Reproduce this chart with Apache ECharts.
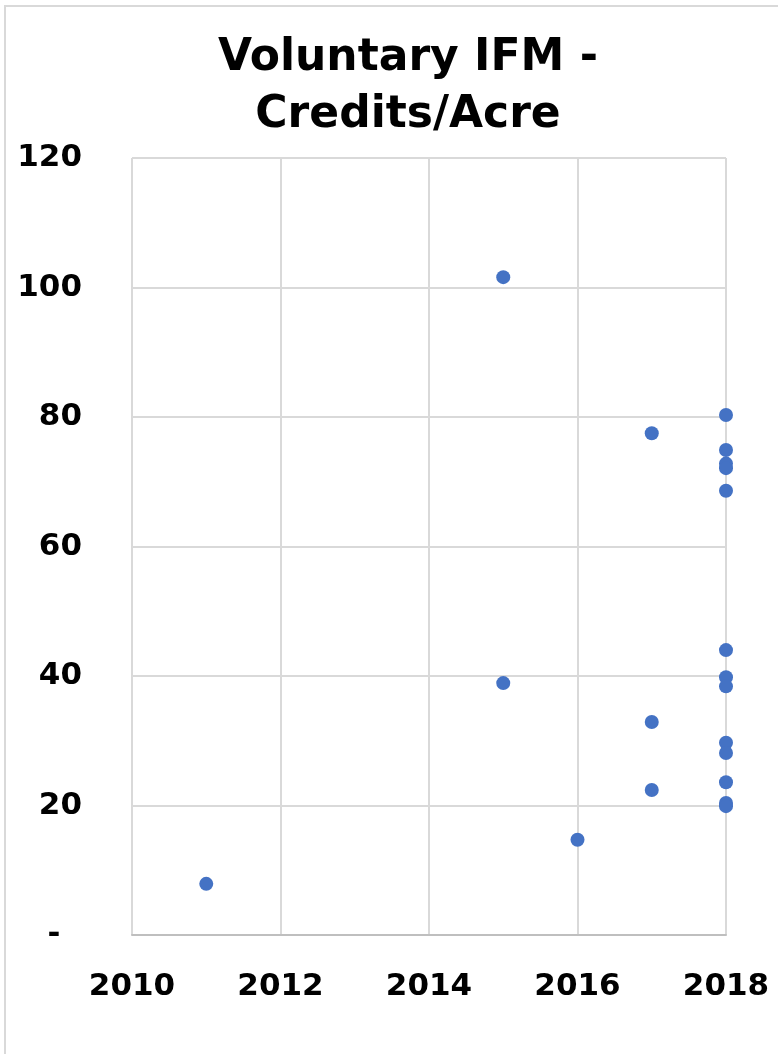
<!DOCTYPE html>
<html>
<head>
<meta charset="utf-8">
<script src="https://cdn.jsdelivr.net/npm/echarts@6/dist/echarts.min.js"></script>
<style>
  html, body { margin: 0; padding: 0; background: #ffffff; }
  #chart { width: 778px; height: 1054px; }
</style>
</head>
<body>
<div id="chart"></div>
<script>
// Project vintage year and credits issued per acre
const years = [2011, 2015, 2015, 2016, 2017, 2017, 2017,
               2018, 2018, 2018, 2018, 2018, 2018, 2018, 2018, 2018, 2018, 2018, 2018, 2018];
const creditsPerAcre = [7.9, 101.6, 38.9, 14.7, 77.5, 32.9, 22.4,
                        80.3, 74.9, 72.8, 72.1, 68.6, 44.0, 39.8, 38.4, 29.7, 28.1, 23.6, 20.4, 19.9];
const titleText = 'Voluntary IFM -\nCredits/Acre';

const points = years.map((y, i) => [y, creditsPerAcre[i]]);
const FONT = '"DejaVu Sans", sans-serif';

const chart = echarts.init(document.getElementById('chart'), null, { renderer: 'canvas' });
chart.setOption({
  animation: false,
  backgroundColor: '#ffffff',
  grid: { left: 132, right: 52, top: 158, bottom: 119, containLabel: false },
  graphic: [
    {
      type: 'rect',
      shape: { x: 5, y: 6, width: 820, height: 1100 },
      style: { fill: 'none', stroke: '#d9d9d9', lineWidth: 2 },
      silent: true
    },
    {
      type: 'text',
      x: 408, y: 30,
      style: {
        text: titleText,
        font: 'bold 44px ' + FONT,
        fill: '#000000',
        align: 'center',
        verticalAlign: 'top',
        lineHeight: 57
      }
    }
  ],
  xAxis: {
    type: 'value',
    min: 2010, max: 2018, interval: 2,
    axisLine: { show: true, lineStyle: { color: '#bfbfbf', width: 2 } },
    axisTick: { show: false },
    splitLine: { show: true, lineStyle: { color: '#d9d9d9', width: 2 } },
    axisLabel: {
      color: '#000000', fontFamily: FONT, fontWeight: 'bold', fontSize: 31,
      margin: 36, showMaxLabel: true, showMinLabel: true,
      formatter: v => String(v)
    }
  },
  yAxis: {
    type: 'value',
    min: 0, max: 120, interval: 20,
    axisLine: { show: false },
    axisTick: { show: false },
    splitLine: { show: true, lineStyle: { color: '#d9d9d9', width: 2 } },
    axisLabel: {
      color: '#000000', fontFamily: FONT, fontWeight: 'bold', fontSize: 31,
      margin: 50,
      formatter: v => v === 0 ? '-\u2002\u2009' : String(v)
    }
  },
  series: [{
    type: 'scatter',
    data: points,
    symbol: 'circle',
    symbolSize: 14,
    itemStyle: { color: '#4472c4', opacity: 1 }
  }]
});
</script>
</body>
</html>
